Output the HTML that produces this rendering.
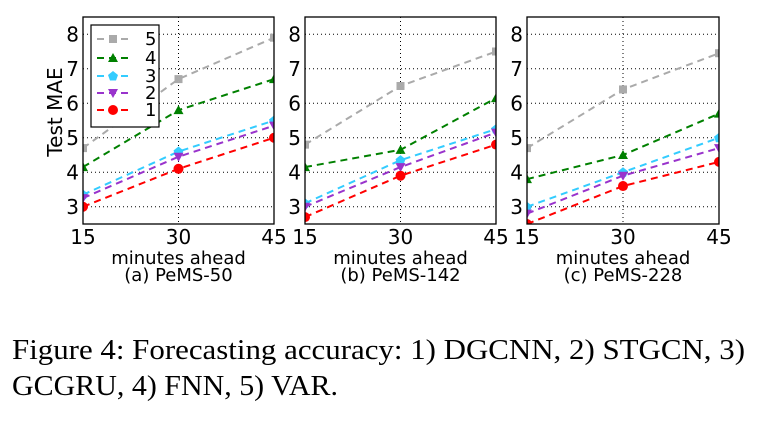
<!DOCTYPE html>
<html><head><meta charset="utf-8"><style>body{margin:0;background:#fff}svg{display:block}</style></head>
<body>
<svg id="s" width="776" height="422" xmlns="http://www.w3.org/2000/svg" font-family="'DejaVu Sans','Liberation Sans',sans-serif"></svg>
<script>
(function(){
const s=document.getElementById('s');let h='';
const T0=17,B0=224;const yv=v=>B0-(v-2.5)*(B0-T0)/6;
const cols={5:'#aaaaaa',4:'#008000',3:'#33ccff',2:'#9933cc',1:'#ff0000'};
function mk(k,x,y){const c=cols[k];
 if(k==5)return `<rect x="${x-4}" y="${y-4}" width="8" height="8" fill="${c}"/>`;
 if(k==4)return `<polygon points="${x},${y-5} ${x+5},${y+4} ${x-5},${y+4}" fill="${c}"/>`;
 if(k==3)return `<polygon points="${x},${y-5} ${x+5},${y-1} ${x+3},${y+4.5} ${x-3},${y+4.5} ${x-5},${y-1}" fill="${c}"/>`;
 if(k==2)return `<polygon points="${x-5},${y-4} ${x+5},${y-4} ${x},${y+5}" fill="${c}"/>`;
 return `<circle cx="${x}" cy="${y}" r="5" fill="${c}"/>`;}
const P=[{x0:83,x1:274,t:'(a) PeMS-50',d:{5:[4.7,6.7,7.9],4:[4.15,5.8,6.7],3:[3.35,4.6,5.5],2:[3.25,4.45,5.35],1:[3.0,4.1,5.0]}},
{x0:305,x1:496,t:'(b) PeMS-142',d:{5:[4.8,6.5,7.5],4:[4.15,4.65,6.15],3:[3.1,4.35,5.25],2:[3.0,4.15,5.15],1:[2.7,3.9,4.8]}},
{x0:527,x1:719,t:'(c) PeMS-228',d:{5:[4.7,6.4,7.45],4:[3.8,4.5,5.7],3:[3.0,4.0,5.0],2:[2.8,3.9,4.7],1:[2.5,3.6,4.3]}}];
P.forEach((p,i)=>{const xm=(p.x0+p.x1)/2,xs=[p.x0,xm,p.x1];
 h+=`<clipPath id="c${i}"><rect x="${p.x0}" y="${T0}" width="${p.x1-p.x0}" height="${B0-T0}"/></clipPath>`;
 for(let v=3;v<=8;v++){const y=yv(v);h+=`<line x1="${p.x0}" x2="${p.x1}" y1="${y}" y2="${y}" stroke="#000" stroke-width="1" stroke-dasharray="1,3"/>`;
  h+=`<text x="${p.x0-4}" y="${y+7}" font-size="20" text-anchor="end">${v}</text>`;}
 h+=`<line x1="${xm}" x2="${xm}" y1="${T0}" y2="${B0}" stroke="#000" stroke-dasharray="1,3"/>`;
 h+=`<g clip-path="url(#c${i})">`;
 [5,4,3,2,1].forEach(k=>{const pts=p.d[k].map((v,j)=>`${xs[j]},${yv(v)}`).join(' ');
  h+=`<polyline points="${pts}" fill="none" stroke="${cols[k]}" stroke-width="2" stroke-dasharray="7,5"/>`;
  p.d[k].forEach((v,j)=>h+=mk(k,xs[j],yv(v)));});
 h+=`</g><rect x="${p.x0}" y="${T0}" width="${p.x1-p.x0}" height="${B0-T0}" fill="none" stroke="#000" stroke-width="1.3"/>`;
 [15,30,45].forEach((t,j)=>h+=`<text x="${xs[j]}" y="244" font-size="20" text-anchor="middle">${t}</text>`);
 h+=`<text x="${xm}" y="264" font-size="18" text-anchor="middle">minutes ahead</text>`;
 h+=`<text x="${xm}" y="281" font-size="18" text-anchor="middle">${p.t}</text>`;});
h+=`<text transform="translate(62,112) rotate(-90)" font-size="20" text-anchor="middle">Test MAE</text>`;
h+=`<rect x="91" y="25" width="68" height="102" fill="#fff" stroke="#000" stroke-width="1.2"/>`;
[[5,39],[4,58],[3,76],[2,93],[1,110]].forEach(([k,y])=>{h+=`<line x1="97" x2="130" y1="${y}" y2="${y}" stroke="${cols[k]}" stroke-width="2" stroke-dasharray="7,5"/>`+mk(k,113,y)+`<text x="145" y="${y+6}" font-size="18">${k}</text>`;});
h+=`<text x="12" y="359" font-family="'Liberation Serif',serif" font-size="28" textLength="733" lengthAdjust="spacingAndGlyphs">Figure 4:  Forecasting accuracy: 1) DGCNN, 2) STGCN, 3)</text>`;
h+=`<text x="12" y="395" font-family="'Liberation Serif',serif" font-size="28" textLength="326" lengthAdjust="spacingAndGlyphs">GCGRU, 4) FNN, 5) VAR.</text>`;
s.innerHTML=h;
})();
</script>
</body></html>
